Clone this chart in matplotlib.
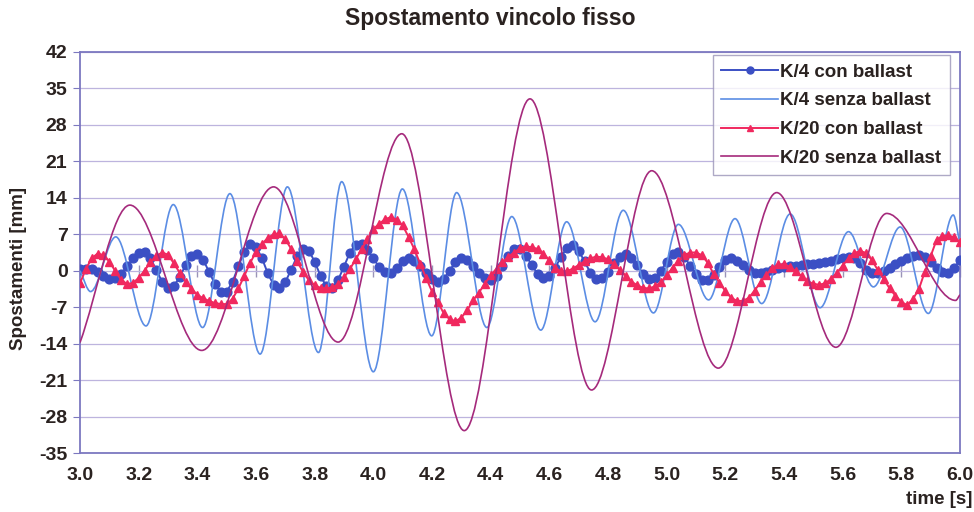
import numpy as np
import matplotlib
matplotlib.use("Agg")
import matplotlib.pyplot as plt
from matplotlib.path import Path
from matplotlib.patches import PathPatch

plt.rcParams['font.family'] = ['Liberation Sans', 'DejaVu Sans']

# ---------------- data ----------------
title = "Spostamento vincolo fisso"
ylabel = "Spostamenti [mm]"
xlabel = "time [s]"
labels = ["K/4 con ballast", "K/4 senza ballast", "K/20 con ballast", "K/20 senza ballast"]

t_start, t_step = 3.0, 0.02   # sampling of the "con ballast" series

k4_con = [
    0.3, 0.37, 0.32, -0.22, -0.98, -1.52, -1.48, -0.59, 0.84, 2.38,
    3.44, 3.64, 2.42, 0.15, -2.12, -3.33, -2.95, -1.19, 1.09, 2.83,
    3.25, 2.08, -0.2, -2.55, -4.07, -4.04, -2.12, 0.83, 3.68, 5.1,
    4.64, 2.45, -0.48, -2.71, -3.36, -2.17, 0.22, 2.76, 4.18, 3.87,
    1.76, -1.01, -3.02, -3.26, -1.77, 0.81, 3.48, 5.03, 5.04, 4.0,
    2.35, 0.7, -0.33, -0.38, 0.6, 1.88, 2.4, 1.96, 0.87, -0.48,
    -1.56, -2.1, -1.56, 0.02, 1.68, 2.4, 2.02, 0.94, -0.41, -1.42,
    -1.8, -0.95, 0.88, 2.9, 4.18, 4.11, 2.91, 1.11, -0.63, -1.44,
    -1.08, 0.55, 2.72, 4.39, 4.87, 3.84, 1.8, -0.38, -1.6, -1.46,
    -0.28, 1.39, 2.73, 3.2, 2.51, 1.04, -0.57, -1.6, -1.49, -0.11,
    1.77, 3.23, 3.55, 2.66, 1.0, -0.69, -1.74, -1.77, -0.74, 0.81,
    2.01, 2.39, 1.96, 1.1, 0.17, -0.41, -0.45, -0.2, 0.2, 0.55,
    0.8, 0.95, 1.0, 1.1, 1.2, 1.3, 1.45, 1.65, 1.9, 2.2,
    2.5, 2.7, 2.43, 1.42, 0.2, -0.47, -0.42, -0.08, 0.52, 1.2,
    1.9, 2.49, 2.89, 3.0, 2.58, 1.6, 0.5, -0.3, -0.45, 0.6,
    2.0,
]

k20_con = [
    -2.4, 0.3, 2.4, 3.3, 3.0, 1.77, -0.06, -1.72, -2.54, -2.37,
    -1.38, 0.02, 1.61, 2.89, 3.48, 3.1, 1.4, -0.4, -2.1, -3.5,
    -4.6, -5.3, -5.8, -6.2, -6.4, -6.4, -5.4, -3.4, -1.0, 1.5,
    3.6, 5.1, 6.3, 7.0, 7.2, 6.0, 4.2, 1.8, -0.2, -1.8,
    -2.8, -3.3, -3.4, -3.2, -2.6, -1.3, 0.3, 2.2, 4.1, 6.1,
    8.0, 9.0, 9.9, 10.3, 9.8, 8.7, 6.5, 4.1, 1.3, -1.4,
    -4.0, -6.0, -8.2, -9.3, -9.7, -9.0, -7.6, -5.7, -4.2, -2.5,
    -0.9, 0.4, 1.6, 2.7, 3.5, 4.3, 4.7, 4.5, 4.2, 3.3,
    2.0, 0.5, -0.1, -0.1, 0.4, 1.1, 1.8, 2.4, 2.7, 2.6,
    2.2, 1.3, 0.2, -1.0, -2.1, -2.8, -3.3, -3.4, -3.0, -2.2,
    -0.9, 0.6, 1.9, 3.0, 3.5, 3.5, 3.0, 1.5, -0.6, -2.3,
    -3.9, -5.2, -5.8, -5.8, -5.2, -3.8, -2.2, -0.8, 0.5, 1.2,
    1.2, 0.8, -0.1, -1.1, -2.0, -2.5, -2.7, -2.4, -1.6, -0.4,
    1.0, 2.4, 3.4, 3.8, 3.4, 2.0, 0.1, -1.6, -3.4, -4.8,
    -6.0, -6.6, -5.4, -3.5, -0.2, 2.8, 5.9, 6.7, 6.8, 6.4,
    5.5,
]

# "senza ballast" series: turning points (time, value)
k4_senza_t = [3.0, 3.036, 3.122, 3.225, 3.318, 3.418, 3.511, 3.614, 3.707, 3.813,
              3.892, 4.0, 4.099, 4.199, 4.284, 4.387, 4.472, 4.571, 4.659, 4.756,
              4.852, 4.955, 5.04, 5.143, 5.233, 5.324, 5.421, 5.523, 5.62, 5.705,
              5.796, 5.892, 5.977, 6.0]
k4_senza_v = [0.0, -4.0, 6.5, -10.6, 12.7, -10.9, 14.8, -16.0, 16.1, -15.7,
              17.1, -19.4, 15.7, -12.5, 15.0, -10.9, 10.4, -11.4, 9.4, -9.8,
              11.6, -8.1, 8.9, -5.6, 10.0, -6.3, 10.9, -7.1, 7.5, -3.1,
              8.4, -8.2, 10.7, 5.2]

k20_senza_t = [3.0, 3.17, 3.415, 3.66, 3.88, 4.097, 4.31, 4.534, 4.744, 4.949,
               5.176, 5.375, 5.577, 5.75, 5.985, 6.0]
k20_senza_v = [-13.8, 12.6, -15.3, 16.1, -13.7, 26.3, -30.7, 33.0, -22.9, 19.2,
               -18.7, 15.0, -14.7, 11.0, -5.7, -4.6]

xticks = [3.0, 3.2, 3.4, 3.6, 3.8, 4.0, 4.2, 4.4, 4.6, 4.8, 5.0, 5.2, 5.4, 5.6, 5.8, 6.0]
yticks = [-35, -28, -21, -14, -7, 0, 7, 14, 21, 28, 35, 42]

# ---------------- style ----------------
c_k4con = "#3b4fc4"
c_k4sen = "#5b8de4"
c_k20con = "#f0285e"
c_k20sen = "#a52a7c"
c_frame = "#7c78c0"
c_grid = "#bdb4de"
c_text = "#2a2220"


def smooth_path(t, v):
    t = np.asarray(t, float)
    v = np.asarray(v, float)
    n = len(t)
    m = np.zeros(n)
    for i in range(n):
        if 0 < i < n - 1:
            if (v[i] - v[i - 1]) * (v[i + 1] - v[i]) <= 0:
                m[i] = 0.0
            else:
                m[i] = (v[i + 1] - v[i - 1]) / (t[i + 1] - t[i - 1])
        elif i == 0:
            m[i] = (v[1] - v[0]) / (t[1] - t[0])
        else:
            m[i] = (v[-1] - v[-2]) / (t[-1] - t[-2])
    verts = [(t[0], v[0])]
    codes = [Path.MOVETO]
    for i in range(n - 1):
        d = (t[i + 1] - t[i]) / 3.0
        verts += [(t[i] + d, v[i] + m[i] * d),
                  (t[i + 1] - d, v[i + 1] - m[i + 1] * d),
                  (t[i + 1], v[i + 1])]
        codes += [Path.CURVE4] * 3
    return Path(verts, codes)


fig = plt.figure(figsize=(9.74, 5.12), dpi=100)
ax = fig.add_axes([80 / 974, 1 - 453 / 512, 880 / 974, 401 / 512])

t_con = t_start + t_step * np.arange(len(k4_con))
t_con20 = t_start + t_step * np.arange(len(k20_con))

ax.plot(t_con, k4_con, color=c_k4con, lw=1.4, marker='o', ms=6.3,
        mec=c_k4con, mfc=c_k4con, zorder=3, label=labels[0])
ax.add_patch(PathPatch(smooth_path(k4_senza_t, k4_senza_v), fill=False,
                       edgecolor=c_k4sen, lw=1.2, zorder=4))
ax.plot([], [], color=c_k4sen, lw=1.2, label=labels[1])
ax.plot(t_con20, k20_con, color=c_k20con, lw=1.4, marker='^', ms=5.4,
        mec=c_k20con, mfc=c_k20con, zorder=5, label=labels[2])
ax.add_patch(PathPatch(smooth_path(k20_senza_t, k20_senza_v), fill=False,
                       edgecolor=c_k20sen, lw=1.2, zorder=6))
ax.plot([], [], color=c_k20sen, lw=1.2, label=labels[3])

ymin, ymax = yticks[0], yticks[-1]
ax.set_xlim(xticks[0], xticks[-1])
ax.set_ylim(ymin, ymax)
ax.set_xticks(xticks)
ax.set_xticklabels([f"{x:.1f}" for x in xticks], fontweight='bold')
ax.set_yticks(yticks)
ax.set_yticklabels([str(y) for y in yticks], fontweight='bold')

ax.yaxis.grid(True, color=c_grid, lw=0.9, zorder=0)
ax.set_axisbelow(True)
for s in ax.spines.values():
    s.set_color(c_frame)
    s.set_linewidth(1.3)

ax.tick_params(axis='x', length=0, pad=10, labelsize=14, labelcolor=c_text)
ax.tick_params(axis='y', length=5, direction='out', color=c_frame, pad=4,
               labelsize=14, labelcolor=c_text)

# tick marks of the horizontal axis sit on the zero line
sec = ax.secondary_xaxis((0 - ymin) / (ymax - ymin))
sec.set_xticks(xticks)
sec.tick_params(direction='inout', length=8, color="#9a94b8", width=1,
                labeltop=False, labelbottom=False)
for s in sec.spines.values():
    s.set_visible(False)

fig.text(490 / 974, 1 - 19 / 512, title, ha='center', va='center',
         fontsize=16.5, fontweight='bold', color=c_text)
fig.text(19 / 974, 1 - 268 / 512, ylabel, ha='center', va='center',
         rotation=90, fontsize=13.5, fontweight='bold', color=c_text)
fig.text(906 / 974, 1 - 500 / 512, xlabel, ha='left', va='center',
         fontsize=13.5, fontweight='bold', color=c_text)

leg = ax.legend(loc='upper right', bbox_to_anchor=((950 - 80) / 880, (453 - 55) / 401),
                fontsize=13.5, frameon=True, fancybox=False, handlelength=3.0,
                handletextpad=0.15, labelspacing=0.62, borderpad=0.45,
                borderaxespad=0.0, markerscale=0.8)
leg.get_frame().set_edgecolor("#9a94b8")
leg.get_frame().set_linewidth(1.0)
for txt in leg.get_texts():
    txt.set_fontweight('bold')
    txt.set_color(c_text)

fig.savefig("out.png", dpi=100, facecolor='white')
